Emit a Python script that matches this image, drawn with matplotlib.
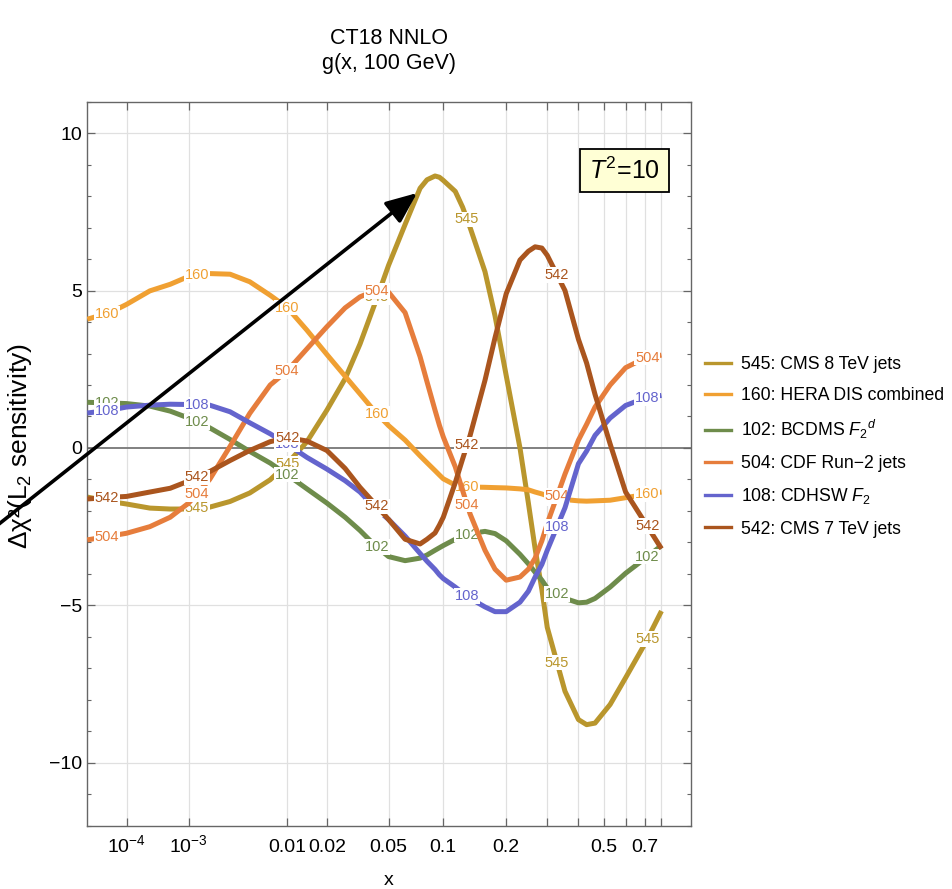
import numpy as np
import matplotlib.pyplot as plt
from matplotlib.lines import Line2D
from matplotlib.patches import FancyArrowPatch

plt.rcParams['font.family'] = ['Liberation Sans', 'DejaVu Sans']
plt.rcParams['mathtext.fontset'] = 'custom'
plt.rcParams['mathtext.rm'] = 'Liberation Sans'
plt.rcParams['mathtext.it'] = 'Liberation Sans:italic'
plt.rcParams['mathtext.bf'] = 'Liberation Sans:bold'

x = [1e-5, 4.3e-5, 1e-4, 2.7e-4, 5.6e-4, 1e-3, 1.8e-3, 3e-3, 4.7e-3, 7.2e-3,
     0.01, 0.0143, 0.02, 0.0267, 0.0334, 0.0415, 0.05, 0.0623, 0.0754, 0.0822, 0.0906, 0.0955,
     0.1, 0.115, 0.125, 0.136, 0.16, 0.178, 0.2, 0.23, 0.25, 0.267, 0.285, 0.3, 0.354,
     0.4, 0.43, 0.463, 0.527, 0.6, 0.7, 0.8]

y545 = [-1.56, -1.70, -1.78, -1.91, -1.94, -1.94, -1.88, -1.70, -1.43, -1.01,
        -0.5, 0.2, 1.2, 2.2, 3.3, 4.6, 5.8, 7.1, 8.25, 8.52, 8.64, 8.6,
        8.5, 8.15, 7.65, 7.0, 5.6, 4.2, 2.3, 0.0, -1.75, -3.2, -4.5, -5.7, -7.73,
        -8.63, -8.79, -8.74, -8.15, -7.3, -6.24, -5.18]
y160 = [4.09, 4.3, 4.56, 4.99, 5.2, 5.45, 5.54, 5.52, 5.28, 4.85,
        4.46, 3.74, 2.97, 2.28, 1.72, 1.15, 0.71, 0.25, -0.25, -0.47, -0.72, -0.86,
        -0.98, -1.18, -1.22, -1.24, -1.25, -1.26, -1.27, -1.3, -1.33, -1.4, -1.46, -1.52, -1.64,
        -1.68, -1.69, -1.68, -1.66, -1.58, -1.48, -1.4]
y102 = [1.45, 1.43, 1.41, 1.33, 1.17, 0.95, 0.64, 0.27, -0.11, -0.48,
        -0.85, -1.3, -1.75, -2.2, -2.62, -3.1, -3.45, -3.58, -3.5, -3.4, -3.25, -3.17,
        -3.1, -2.9, -2.8, -2.72, -2.65, -2.72, -2.95, -3.38, -3.68, -3.95, -4.2, -4.45, -4.78,
        -4.92, -4.9, -4.78, -4.42, -3.98, -3.52, -3.1]
y504 = [-2.92, -2.8, -2.71, -2.5, -2.2, -1.75, -1.0, 0.05, 1.1, 2.0,
        2.45, 3.15, 3.85, 4.45, 4.8, 5.0, 4.95, 4.3, 2.9, 2.1, 1.2, 0.72,
        0.35, -0.6, -1.35, -2.1, -3.25, -3.85, -4.2, -4.1, -3.85, -3.5, -2.95, -2.4, -0.83,
        0.25, 0.75, 1.3, 2.0, 2.55, 2.85, 2.95]
y108 = [1.11, 1.2, 1.3, 1.36, 1.39, 1.38, 1.36, 1.15, 0.8, 0.45,
        0.12, -0.3, -0.67, -1.04, -1.4, -1.9, -2.27, -2.8, -3.35, -3.6, -3.86, -4.03,
        -4.15, -4.42, -4.6, -4.78, -5.05, -5.2, -5.2, -4.9, -4.55, -4.1, -3.7, -3.25, -1.9,
        -0.5, -0.1, 0.4, 0.95, 1.35, 1.58, 1.67]
y542 = [-1.62, -1.57, -1.54, -1.4, -1.28, -1.05, -0.75, -0.4, -0.08, 0.2,
        0.33, 0.22, -0.08, -0.65, -1.25, -1.78, -2.27, -2.9, -3.05, -2.9, -2.7, -2.45,
        -2.2, -1.1, -0.35, 0.4, 2.15, 3.5, 4.9, 5.97, 6.25, 6.39, 6.35, 6.12, 5.0,
        3.45, 2.7, 1.7, 0.13, -1.4, -2.35, -3.2]

ids = ['545', '160', '102', '504', '108', '542']
names = ['545: CMS 8 TeV jets', '160: HERA DIS combined', '102: BCDMS $F_2{}^d$',
         '504: CDF Run\u22122 jets', '108: CDHSW $F_2$', '542: CMS 7 TeV jets']
colors = ['#b9962d', '#f0a032', '#6e8c4b', '#e67d3c', '#6464cd', '#aa551e']
curves = [y545, y160, y102, y504, y108, y542]

# where the id tags sit along each curve
label_x = [3.6e-5, 1.27e-3, 0.01, 0.0427, 0.1315, 0.329, 0.715]

x_ticks = [1e-4, 1e-3, 0.01, 0.02, 0.05, 0.1, 0.2, 0.3, 0.4, 0.5, 0.6, 0.7, 0.8]
x_ticklabels = ['$10^{-4}$', '$10^{-3}$', '0.01', '0.02', '0.05', '0.1', '0.2',
                '', '', '0.5', '', '0.7', '']
y_ticks = [-10, -5, 0, 5, 10]


def fwd(v):
    return np.power(np.clip(v, 1e-12, None), 0.2)


def inv(v):
    return np.power(v, 5)


fig = plt.figure(figsize=(9.53, 8.89), dpi=100)
ax = fig.add_axes([0.0916, 0.0712, 0.6332, 0.8144])
ax.set_xscale('function', functions=(fwd, inv))
ax.set_xlim(1e-5, 1)
ax.set_ylim(-12, 11)

# grid
for xt in x_ticks:
    ax.axvline(xt, color='#e0e0e0', lw=0.9, zorder=0)
for yt in [-10, -5, 5, 10]:
    ax.axhline(yt, color='#e0e0e0', lw=0.9, zorder=0)
ax.axhline(0, color='#808080', lw=1.4, zorder=1)

# curves and their tags
for i, (yy, c, tag) in enumerate(zip(curves, colors, ids)):
    ax.plot(x, yy, color=c, lw=3.6, solid_capstyle='butt', solid_joinstyle='round',
            zorder=2 + 2 * i)
    ly = np.interp(fwd(np.array(label_x)), fwd(np.array(x)), yy)
    for lx, lyy in zip(label_x, ly):
        ax.text(lx, lyy, tag, color=c, fontsize=10.5, ha='center', va='center',
                zorder=3 + 2 * i,
                bbox=dict(boxstyle='square,pad=0.05', fc='white', ec='none'))

# ticks and frame
ax.set_xticks(x_ticks)
ax.set_xticklabels(x_ticklabels)
ax.set_yticks(y_ticks)
ax.set_yticklabels(['\u221210', '\u22125', '0', '5', '10'])
ax.set_yticks(np.arange(-12, 12), minor=True)
ax.tick_params(axis='both', which='both', direction='in', top=True, right=True,
               color='#666666', labelcolor='black', labelsize=14)
ax.tick_params(axis='both', which='major', length=5.5, width=0.9)
ax.tick_params(axis='y', which='minor', length=3, width=0.8)
ax.tick_params(axis='x', which='major', pad=19)
ax.tick_params(axis='y', which='major', pad=3.5)
for lab in ax.get_xticklabels():
    lab.set_va('baseline')
for sp in ax.spines.values():
    sp.set_color('#666666')
    sp.set_linewidth(1.0)

ax.set_xlabel('x', fontsize=14)
ax.xaxis.set_label_coords(0.5, -0.064)
ax.set_ylabel('\u0394\u03c7\u00b2(L$_2$ sensitivity)', fontsize=19)
ax.yaxis.set_label_coords(-0.088, 0.525)

# titles
fig.text(0.4082, 1 - 38 / 889, 'CT18 NNLO', ha='center', va='center', fontsize=15.5)
fig.text(0.4082, 1 - 63 / 889, 'g(x, 100 GeV)', ha='center', va='center', fontsize=15.5)

# T^2 box
ax.text(0.890, 0.905, '$T^2$=10', transform=ax.transAxes, ha='center', va='center',
        fontsize=18, zorder=20,
        bbox=dict(boxstyle='square,pad=0.35', fc='#ffffd5', ec='black', lw=1.3))

# legend
handles = [Line2D([], [], color=c, lw=2.4) for c in colors]
fig.legend(handles, names, loc='center left', bbox_to_anchor=(705 / 953, 1 - 446.7 / 889),
           frameon=False, fontsize=12.7, handlelength=1.5, handletextpad=0.55,
           labelspacing=0.8, borderpad=0, borderaxespad=0)

# arrow across the figure
arrow = FancyArrowPatch(posA=(-0.02, 0.3945), posB=(0.4376, 0.7829),
                        transform=fig.transFigure,
                        arrowstyle='-|>,head_length=0.9,head_width=0.38',
                        mutation_scale=21, lw=2.6, color='black',
                        shrinkA=0, shrinkB=0, zorder=10)
fig.add_artist(arrow)

fig.savefig('out.png', dpi=100)
